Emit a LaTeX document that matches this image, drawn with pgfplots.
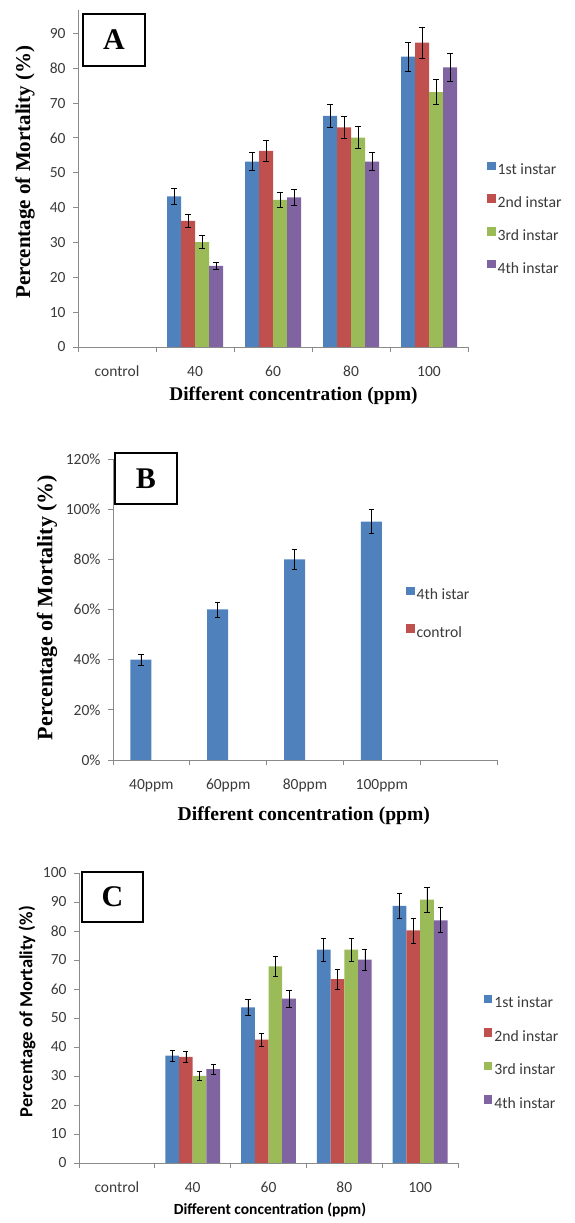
\documentclass[border=0pt]{standalone}
\usepackage{pgfplots}
\pgfplotsset{compat=1.18}
\usepackage{fontspec}
\setmainfont{Liberation Serif}
\newfontfamily\calib{Carlito}
\definecolor{c1}{HTML}{4F81BD}
\definecolor{c2}{HTML}{C0504D}
\definecolor{c3}{HTML}{9BBB59}
\definecolor{c4}{HTML}{8064A2}
\definecolor{axgray}{HTML}{8A8A8A}
\definecolor{tickc}{HTML}{3A3A3A}
\pgfplotsset{
  excel/.style={
    scale only axis,
    axis lines*=left,
    axis line style={axgray, line width=0.8pt},
    xmin=-0.5, xmax=4.5, ymin=0,
    xtick={0,1,2,3,4},
    major x tick style={draw=none},
    minor xtick={-0.5,0.5,1.5,2.5,3.5,4.5},
    minor x tick style={axgray, line width=0.8pt},
    y tick style={axgray, line width=0.8pt},
    tick align=outside,
    minor tick length=5pt, major tick length=5pt,
    ticklabel style={font=\calib\fontsize{15.5}{18}\selectfont, text=tickc},
    xticklabel style={yshift=-10pt, text height=11pt, text depth=3.5pt},
    yticklabel style={xshift=-4pt},
    /pgf/number format/assume math mode=true,
    ybar=0pt,
    legend image code/.code={\fill[##1] (0pt,0pt) rectangle (8.5pt,8.5pt);},
    legend cell align=left,
    legend style={draw=none, fill=none, inner sep=0pt, anchor=north west,
      font=\calib\fontsize{15.7}{18}\selectfont, text=tickc},
    xlabel style={anchor=center},
    ylabel style={anchor=center},
  },
  eb/.style={error bars/.cd, y dir=both, y explicit,
    error bar style={black, line width=0.7pt},
    error mark options={rotate=90, mark size=2.6pt, black, line width=0.7pt}},
}
\begin{document}
\begin{tikzpicture}
\useasboundingbox (0,0) rectangle (575pt,1223pt);
% ---------------- Panel A ----------------
\begin{axis}[excel,
  at={(78pt,876pt)}, anchor=south west,
  width=390pt, height=337pt, ymax=96.7,
  ytick={0,10,...,90},
  xticklabels={control,40,60,80,100},
  bar width=14pt,
  xlabel={\bfseries\fontsize{19.3}{22}\selectfont Different concentration (ppm)},
  ylabel={\bfseries\fontsize{21}{24}\selectfont Percentage of Mortality (\%)},
  xlabel style={at={(axis description cs:0.5526,-0.1454)}},
  ylabel style={at={(axis description cs:-0.1359,0.519)}},
  legend style={at={(axis description cs:1.0487,0.550)}, row sep=16pt},
]
\addplot[fill=c1, draw=none, eb] coordinates {(1,43.2) +- (0,2.3) (2,53.2) +- (0,2.6) (3,66.3) +- (0,3.3) (4,83.3) +- (0,4.1)};
\addplot[fill=c2, draw=none, eb] coordinates {(1,36.2) +- (0,1.9) (2,56.3) +- (0,3.0) (3,63.0) +- (0,3.2) (4,87.3) +- (0,4.4)};
\addplot[fill=c3, draw=none, eb] coordinates {(1,30.1) +- (0,1.9) (2,42.2) +- (0,2.1) (3,60.1) +- (0,3.1) (4,73.1) +- (0,3.6)};
\addplot[fill=c4, draw=none, eb] coordinates {(1,23.3) +- (0,1.1) (2,42.9) +- (0,2.2) (3,53.2) +- (0,2.6) (4,80.2) +- (0,4.0)};
\legend{1st instar,2nd instar,3rd instar,4th instar}
\end{axis}
% ---------------- Panel B ----------------
\begin{axis}[excel,
  at={(113pt,463pt)}, anchor=south west,
  width=384pt, height=301pt, ymax=120,
  ytick={0,20,...,120},
  yticklabel={\pgfmathprintnumber{\tick}\%},
  xticklabels={40ppm,60ppm,80ppm,100ppm,{}},
  bar width=21pt,
  xlabel={\bfseries\fontsize{19.6}{22}\selectfont Different concentration (ppm)},
  ylabel={\bfseries\fontsize{22}{25}\selectfont Percentage of Mortality (\%)},
  xlabel style={at={(axis description cs:0.497,-0.186)}},
  ylabel style={at={(axis description cs:-0.172,0.507)}},
  legend style={at={(axis description cs:0.763,0.5764)}, row sep=21pt},
]
\addplot[fill=c1, draw=none, bar shift=-10.5pt, eb] coordinates {(0,40) +- (0,2.2) (1,60) +- (0,3.0) (2,80) +- (0,4.0) (3,95) +- (0,4.8)};
\addlegendentry{4th istar}
\addlegendimage{fill=c2, draw=none}
\addlegendentry{control}
\end{axis}
% ---------------- Panel C ----------------
\begin{axis}[excel,
  at={(79pt,60pt)}, anchor=south west,
  width=379pt, height=290pt, ymax=100,
  ytick={0,10,...,100},
  xticklabels={control,40,60,80,100},
  bar width=13.7pt,
  xlabel={\calib\bfseries\fontsize{15.5}{18}\selectfont Different concentration (ppm)},
  ylabel={\calib\bfseries\fontsize{18.5}{21}\selectfont Percentage of Mortality (\%)},
  xlabel style={at={(axis description cs:0.504,-0.162)}},
  ylabel style={at={(axis description cs:-0.137,0.522)}},
  legend style={at={(axis description cs:1.068,0.5807)}, row sep=16.8pt},
]
\addplot[fill=c1, draw=none, eb] coordinates {(1,37.0) +- (0,2.0) (2,53.7) +- (0,2.7) (3,73.6) +- (0,3.9) (4,88.7) +- (0,4.4)};
\addplot[fill=c2, draw=none, eb] coordinates {(1,36.6) +- (0,2.0) (2,42.5) +- (0,2.3) (3,63.4) +- (0,3.4) (4,80.2) +- (0,4.3)};
\addplot[fill=c3, draw=none, eb] coordinates {(1,30.0) +- (0,1.6) (2,67.8) +- (0,3.6) (3,73.6) +- (0,3.9) (4,90.8) +- (0,4.4)};
\addplot[fill=c4, draw=none, eb] coordinates {(1,32.4) +- (0,1.7) (2,56.7) +- (0,2.9) (3,70.1) +- (0,3.7) (4,83.7) +- (0,4.3)};
\legend{1st instar,2nd instar,3rd instar,4th instar}
\end{axis}
% ---------------- Panel letters ----------------
\draw[line width=1.5pt] (83pt,1157pt) rectangle (145pt,1209pt);
\node[font=\bfseries\fontsize{30}{32}\selectfont] at (114pt,1183pt) {A};
\draw[line width=1.5pt] (115pt,719pt) rectangle (177pt,770pt);
\node[font=\bfseries\fontsize{30}{32}\selectfont] at (146pt,744.5pt) {B};
\draw[line width=1.5pt] (82pt,301pt) rectangle (143pt,351pt);
\node[font=\bfseries\fontsize{30}{32}\selectfont] at (112.5pt,326pt) {C};
\end{tikzpicture}
\end{document}
